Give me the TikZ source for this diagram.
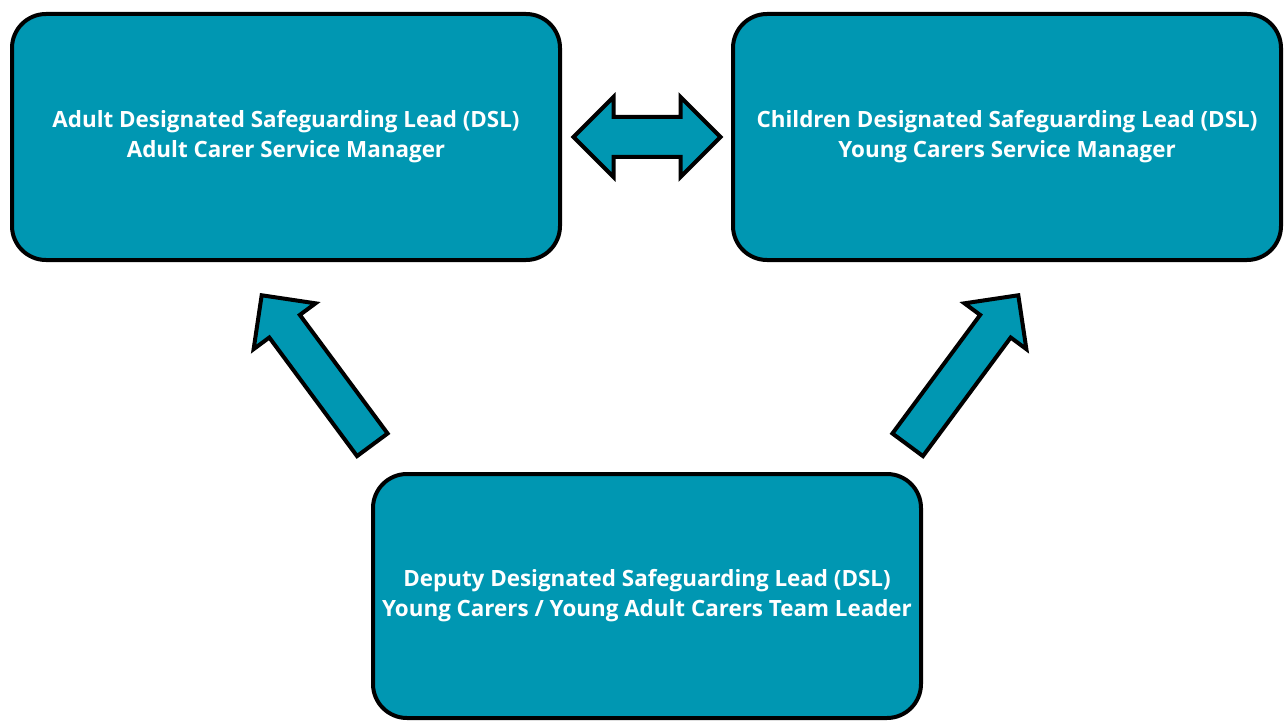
\documentclass[tikz,border=0pt]{standalone}
\usepackage{fontspec}
\setmainfont{Open Sans}
\usetikzlibrary{shapes.arrows}
\definecolor{dslteal}{RGB}{0,151,178}

\begin{document}
\begin{tikzpicture}[x=0.5pt,y=-0.5pt,
    rolebox/.style={draw=black,line width=2pt,fill=dslteal,rounded corners=17pt,
        minimum width=274pt,minimum height=123pt,text=white,align=center,
        font=\bfseries\fontsize{11.2}{15}\selectfont},
    linkarrow/.style={draw=black,line width=2pt,fill=dslteal,inner sep=9pt,
        double arrow,double arrow head extend=10pt,minimum height=73.5pt},
    uparrow/.style={draw=black,line width=2pt,fill=dslteal,inner sep=8.5pt,
        single arrow,single arrow head extend=9.75pt,minimum height=93pt,anchor=tip}]
            \useasboundingbox (0,0) rectangle (1286,722);
            \node[rolebox] (adult) at (286,137) {Adult Designated Safeguarding Lead (DSL)\\Adult Carer Service Manager};
            \node[rolebox] (children) at (1007,137) {Children Designated Safeguarding Lead (DSL)\\Young Carers Service Manager};
            \node[rolebox,minimum height=122pt] (deputy) at (647,596) {Deputy Designated Safeguarding Lead (DSL)\\Young Carers / Young Adult Carers Team Leader};
            \node[linkarrow] (link) at (647,137) {};
            \node[uparrow,rotate=126.5] (toadult) at (260,293) {};
            \node[uparrow,rotate=53.5] (tochildren) at (1020,293) {};
        \end{tikzpicture}
\end{document}
